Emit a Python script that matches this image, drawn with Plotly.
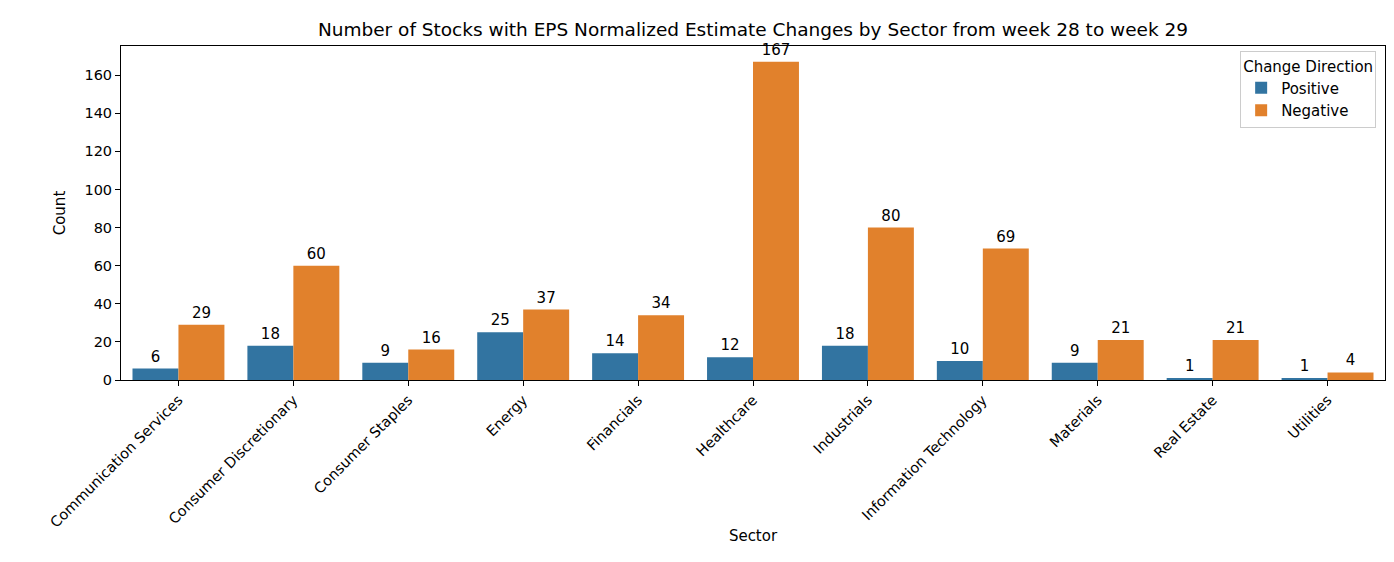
import plotly.graph_objects as go

sectors = ["Communication Services", "Consumer Discretionary", "Consumer Staples", "Energy",
           "Financials", "Healthcare", "Industrials", "Information Technology",
           "Materials", "Real Estate", "Utilities"]
positive = [6, 18, 9, 25, 14, 12, 18, 10, 9, 1, 1]
negative = [29, 60, 16, 37, 34, 167, 80, 69, 21, 21, 4]

fig = go.Figure()
fig.add_trace(go.Bar(name="Positive", x=sectors, y=positive, marker_color="#3274a1",
                     marker_line_width=0,
                     text=[str(v) for v in positive], textposition="outside",
                     textfont=dict(size=15, color="black"), cliponaxis=False))
fig.add_trace(go.Bar(name="Negative", x=sectors, y=negative, marker_color="#e1812c",
                     marker_line_width=0,
                     text=[str(v) for v in negative], textposition="outside",
                     textfont=dict(size=15, color="black"), cliponaxis=False))

axis_common = dict(showline=True, linecolor="black", linewidth=1, mirror=True,
                   ticks="outside", ticklen=5, tickcolor="black", showgrid=False,
                   automargin=False, tickfont=dict(size=14.5, color="black"))
fig.update_layout(
    barmode="group", bargap=0.2, bargroupgap=0,
    width=1394, height=562,
    margin=dict(l=113, r=17, t=38, b=190),
    paper_bgcolor="white", plot_bgcolor="white",
    font=dict(family="DejaVu Sans", color="black"),
    title=dict(text="Number of Stocks with EPS Normalized Estimate Changes by Sector from week 28 to week 29",
               x=0.5, xref="paper", xanchor="center", y=0.962, yanchor="middle",
               font=dict(size=18.5)),
    xaxis=dict(title=dict(text="Sector", font=dict(size=15), standoff=0), tickangle=-45,
               range=[-0.5, 10.5], **axis_common),
    yaxis=dict(title=dict(text="Count", font=dict(size=15)), range=[0, 175.3],
               tickvals=[0, 20, 40, 60, 80, 100, 120, 140, 160], zeroline=False, **axis_common),
    legend=dict(title=dict(text="Change Direction", side="top", font=dict(size=15)),
                x=0.993, y=0.985,
                xanchor="right", yanchor="top", bordercolor="#cccccc", borderwidth=1,
                font=dict(size=15), bgcolor="white"),
)
fig.write_html("out.html")
